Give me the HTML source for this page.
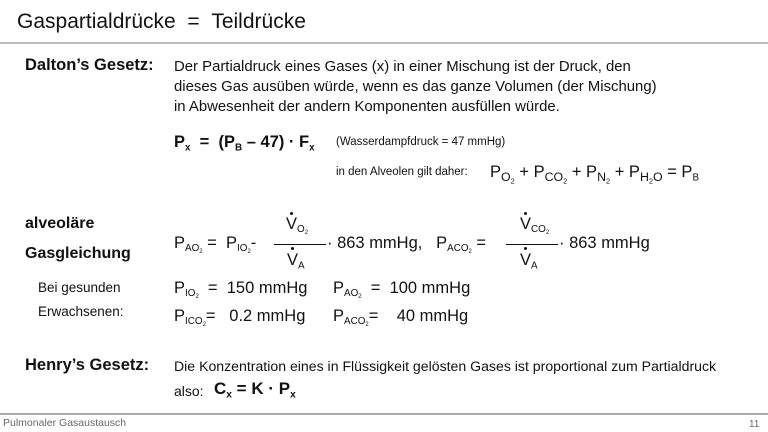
<!DOCTYPE html>
<html><head><meta charset="utf-8"><style>
body{margin:0;width:768px;height:432px;background:#fff;position:relative;overflow:hidden;font-family:"Liberation Sans",Arial,sans-serif;color:#111}
.a{position:absolute;white-space:nowrap;line-height:1}
b{font-weight:bold}
sub{font-size:0.6em;vertical-align:-0.35em;line-height:0}
.s2{font-size:0.75em}
.dot{position:absolute;width:3px;height:3px;border-radius:50%;background:#111}
.hl{position:absolute;height:1px;background:#111}
</style></head><body>
<div class="a" style="left:17px;top:11px;font-size:21px">Gaspartialdrücke&nbsp; = &nbsp;Teildrücke</div>
<div style="position:absolute;left:0;top:42px;width:768px;height:2px;background:#bbb"></div>

<div class="a" style="left:25px;top:57px;font-size:16.5px;font-weight:bold">Dalton’s Gesetz:</div>
<div class="a" style="left:174px;top:57px;font-size:14.9px;line-height:20px">Der Partialdruck eines Gases (x) in einer Mischung ist der Druck, den<br>dieses Gas ausüben würde, wenn es das ganze Volumen (der Mischung)<br>in Abwesenheit der andern Komponenten ausfüllen würde.</div>

<div class="a" style="left:174px;top:134px;font-size:16.5px;font-weight:bold">P<sub>x</sub>&nbsp; = &nbsp;(P<sub>B</sub> – 47) · F<sub>x</sub></div>
<div class="a" style="left:336px;top:137px;font-size:11.5px">(Wasserdampfdruck = 47 mmHg)</div>
<div class="a" style="left:336px;top:167px;font-size:11.5px">in den Alveolen gilt daher:</div>
<div class="a" style="left:490px;top:164px;font-size:16.5px">P<sub class="s2">O<sub>2</sub></sub> + P<sub class="s2">CO<sub>2</sub></sub> + P<sub class="s2">N<sub>2</sub></sub> + P<sub class="s2">H<sub>2</sub>O</sub> = P<sub>B</sub></div>

<div class="a" style="left:25px;top:216px;font-size:16px;font-weight:bold">alveoläre</div>
<div class="a" style="left:25px;top:246px;font-size:16px;font-weight:bold">Gasgleichung</div>

<div class="a" style="left:174px;top:235px;font-size:16.5px">P<sub>AO<sub>2</sub></sub> = &nbsp;P<sub>IO<sub>2</sub></sub>-</div>
<div class="a" style="left:286px;top:216px;font-size:16.5px">V<sub>O<sub>2</sub></sub></div>
<div class="dot" style="left:290px;top:212px"></div>
<div class="hl" style="left:274px;top:244px;width:52px"></div>
<div class="a" style="left:287px;top:252px;font-size:16.5px">V<sub>A</sub></div>
<div class="dot" style="left:291px;top:247px"></div>
<div class="a" style="left:327px;top:235px;font-size:16.5px">· 863 mmHg, &nbsp;&nbsp;P<sub>ACO<sub>2</sub></sub> =</div>
<div class="a" style="left:520px;top:216px;font-size:16.5px">V<sub>CO<sub>2</sub></sub></div>
<div class="dot" style="left:524px;top:212px"></div>
<div class="hl" style="left:506px;top:244px;width:52px"></div>
<div class="a" style="left:520px;top:252px;font-size:16.5px">V<sub>A</sub></div>
<div class="dot" style="left:524px;top:247px"></div>
<div class="a" style="left:559px;top:235px;font-size:16.5px">· 863 mmHg</div>

<div class="a" style="left:38px;top:281px;font-size:13.5px">Bei gesunden</div>
<div class="a" style="left:38px;top:305px;font-size:13.5px">Erwachsenen:</div>
<div class="a" style="left:174px;top:280px;font-size:16.5px">P<sub>IO<sub>2</sub></sub>&nbsp; = &nbsp;150 mmHg</div>
<div class="a" style="left:333px;top:280px;font-size:16.5px">P<sub>AO<sub>2</sub></sub>&nbsp; = &nbsp;100 mmHg</div>
<div class="a" style="left:174px;top:308px;font-size:16.5px">P<sub>ICO<sub>2</sub></sub>= &nbsp; 0.2 mmHg</div>
<div class="a" style="left:333px;top:308px;font-size:16.5px">P<sub>ACO<sub>2</sub></sub>= &nbsp;&nbsp; 40 mmHg</div>

<div class="a" style="left:25px;top:357px;font-size:16.5px;font-weight:bold">Henry’s Gesetz:</div>
<div class="a" style="left:174px;top:359px;font-size:14.1px">Die Konzentration eines in Flüssigkeit gelösten Gases ist proportional zum Partialdruck</div>
<div class="a" style="left:174px;top:384px;font-size:14px">also:</div>
<div class="a" style="left:214px;top:380px;font-size:17px;font-weight:bold">C<sub>x</sub> = K · P<sub>x</sub></div>

<div style="position:absolute;left:0;top:413px;width:768px;height:2px;background:#aaa"></div>
<div class="a" style="left:3px;top:418px;font-size:10.5px;color:#666">Pulmonaler Gasaustausch</div>
<div class="a" style="left:749px;top:420px;font-size:10px;color:#666">11</div>
</body></html>
